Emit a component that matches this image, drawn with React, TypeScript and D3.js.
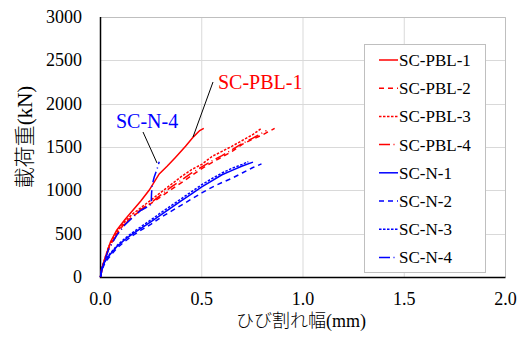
import React, { useEffect, useRef } from 'react'
import * as d3 from 'd3'

// crack width (mm) vs load (kN)
const pbl1 = [[0,0],[0.005,90],[0.02,200],[0.05,410],[0.08,540],[0.12,660],[0.16,770],[0.2,880],[0.24,1000],[0.29,1190],[0.33,1280],[0.37,1380],[0.42,1510],[0.46,1620],[0.49,1690],[0.51,1715]]
const pbl2 = [[0,0],[0.01,120],[0.04,330],[0.08,500],[0.12,620],[0.16,700],[0.2,770],[0.25,850],[0.3,930],[0.35,1010],[0.4,1090],[0.45,1170],[0.5,1250],[0.55,1320],[0.6,1385],[0.65,1450],[0.7,1530],[0.75,1590],[0.8,1640],[0.86,1715]]
const pbl3 = [[0,0],[0.01,130],[0.04,350],[0.08,520],[0.12,640],[0.16,730],[0.2,800],[0.25,890],[0.3,980],[0.35,1070],[0.4,1160],[0.45,1240],[0.5,1300],[0.55,1390],[0.6,1450],[0.65,1510],[0.7,1575],[0.75,1640],[0.795,1715]]
const pbl4 = [[0,0],[0.01,110],[0.04,320],[0.08,490],[0.12,610],[0.16,700],[0.2,780],[0.25,860],[0.3,950],[0.35,1040],[0.4,1120],[0.45,1200],[0.5,1270],[0.55,1340],[0.6,1400],[0.65,1470],[0.7,1540],[0.75,1600],[0.82,1690]]
const n1 = [[0,0],[0.005,80],[0.02,170],[0.04,240],[0.08,350],[0.12,430],[0.16,500],[0.2,560],[0.25,640],[0.3,720],[0.35,800],[0.4,880],[0.45,960],[0.5,1040],[0.55,1110],[0.6,1180],[0.65,1230],[0.7,1280],[0.753,1325]]
const n2 = [[0,0],[0.005,70],[0.02,150],[0.04,220],[0.08,330],[0.12,410],[0.16,480],[0.2,540],[0.25,610],[0.3,690],[0.35,760],[0.4,830],[0.45,900],[0.5,970],[0.55,1035],[0.6,1090],[0.65,1140],[0.7,1200],[0.75,1260],[0.795,1305]]
const n3 = [[0,0],[0.005,90],[0.02,180],[0.04,250],[0.08,360],[0.12,445],[0.16,515],[0.2,580],[0.25,660],[0.3,745],[0.35,825],[0.4,905],[0.45,985],[0.5,1065],[0.55,1135],[0.6,1200],[0.65,1255],[0.7,1300],[0.73,1330]]
const n4 = [[0,0],[0.01,120],[0.04,320],[0.08,480],[0.12,600],[0.16,690],[0.2,770],[0.24,820],[0.25,840],[0.252,960],[0.255,1060],[0.265,1150],[0.28,1250],[0.29,1330]]

const names = ['SC-PBL-1','SC-PBL-2','SC-PBL-3','SC-PBL-4','SC-N-1','SC-N-2','SC-N-3','SC-N-4']
const seriesData = [pbl1, pbl2, pbl3, pbl4, n1, n2, n3, n4]
const colors = ['#ff0000','#ff0000','#ff0000','#ff0000','#0000ff','#0000ff','#0000ff','#0000ff']
const dashes = ['none','5,4','2.5,1.5','11,3.5,1,3.5','none','5,4','2.5,1.5','11,3.5,1,3.5']

const xTicks = [0, 0.5, 1.0, 1.5, 2.0]
const yTicks = [0, 500, 1000, 1500, 2000, 2500, 3000]

const serif = "'Liberation Serif', 'Times New Roman', Tinos, 'DejaVu Serif', 'Noto Serif', serif"
const cjk = "'Liberation Serif', 'Times New Roman', Tinos, 'Noto Sans CJK JP', serif"

export default function App() {
  const ref = useRef(null)

  useEffect(() => {
    var svg = d3.select(ref.current)
    svg.selectAll('*').remove()

    var left = 100.5, right = 505.5, top = 17, bottom = 277
    var x = d3.scaleLinear().domain([0, 2]).range([left, right])
    var y = d3.scaleLinear().domain([0, 3000]).range([bottom, top])

    svg.append('rect').attr('width', 520).attr('height', 338).attr('fill', '#fff')

    // grid
    svg.append('g').selectAll('line').data(xTicks.slice(1)).enter().append('line')
      .attr('x1', d => x(d)).attr('x2', d => x(d))
      .attr('y1', top).attr('y2', bottom)
      .attr('stroke', '#d9d9d9').attr('stroke-width', 1)
    svg.append('g').selectAll('line').data(yTicks.slice(1)).enter().append('line')
      .attr('x1', left).attr('x2', right)
      .attr('y1', d => Math.round(y(d)) + 0.5).attr('y2', d => Math.round(y(d)) + 0.5)
      .attr('stroke', '#d9d9d9').attr('stroke-width', 1)

    // frame
    svg.append('path')
      .attr('d', `M${left},${top + 0.5}H${right}V${bottom}`)
      .attr('fill', 'none').attr('stroke', '#bfbfbf').attr('stroke-width', 1)
    svg.append('path')
      .attr('d', `M${left},${top}V${bottom + 0.5}H${right}`)
      .attr('fill', 'none').attr('stroke', '#000').attr('stroke-width', 1.5)

    // tick labels
    svg.append('g').selectAll('text').data(yTicks).enter().append('text')
      .attr('x', 82).attr('y', d => y(d) + 6)
      .attr('text-anchor', 'end')
      .style('font-family', serif).style('font-size', '18px')
      .text(d => d)
    svg.append('g').selectAll('text').data(xTicks).enter().append('text')
      .attr('x', d => x(d)).attr('y', 305)
      .attr('text-anchor', 'middle')
      .style('font-family', serif).style('font-size', '18px')
      .text(d => d.toFixed(1))

    // axis titles
    svg.append('text')
      .attr('x', 301).attr('y', 327).attr('text-anchor', 'middle')
      .style('font-family', cjk).style('font-size', '18px').style('font-weight', 300)
      .text('ひび割れ幅(mm)')
    svg.append('text')
      .attr('transform', 'translate(32,137) rotate(-90)').attr('text-anchor', 'middle')
      .style('font-family', cjk).style('font-size', '21px').style('font-weight', 300)
      .text('載荷重(kN)')

    // curves
    var line = d3.line().x(d => x(d[0])).y(d => y(d[1]))
    svg.append('g').selectAll('path').data(seriesData).enter().append('path')
      .attr('d', d => line(d))
      .attr('fill', 'none')
      .attr('stroke', (d, i) => colors[i])
      .attr('stroke-dasharray', (d, i) => dashes[i])
      .attr('stroke-width', 1.5)

    // annotations
    svg.append('line').attr('x1', 213).attr('y1', 82).attr('x2', 193).attr('y2', 137)
      .attr('stroke', '#000').attr('stroke-width', 1)
    svg.append('text').attr('x', 218).attr('y', 89)
      .attr('fill', '#ff0000')
      .style('font-family', serif).style('font-size', '20px')
      .text('SC-PBL-1')
    svg.append('line').attr('x1', 143).attr('y1', 132).attr('x2', 157).attr('y2', 163)
      .attr('stroke', '#000').attr('stroke-width', 1)
    svg.append('text').attr('x', 116).attr('y', 128)
      .attr('fill', '#0000ff')
      .style('font-family', serif).style('font-size', '20px')
      .text('SC-N-4')

    // legend
    var lg = svg.append('g')
    lg.append('rect')
      .attr('x', 364.5).attr('y', 44.5).attr('width', 121).attr('height', 228)
      .attr('fill', '#fff').attr('stroke', '#bfbfbf').attr('stroke-width', 1)
    var items = lg.selectAll('g').data(names).enter().append('g')
      .attr('transform', (d, i) => `translate(0,${60 + i * 28.2})`)
    items.append('line')
      .attr('x1', 379).attr('x2', 398).attr('y1', 0).attr('y2', 0)
      .attr('stroke', (d, i) => colors[i])
      .attr('stroke-dasharray', (d, i) => dashes[i])
      .attr('stroke-width', 1.5)
    items.append('text')
      .attr('x', 399).attr('y', 6)
      .style('font-family', serif).style('font-size', '17px')
      .text(d => d)
  }, [])

  return (
    <svg ref={ref} width={520} height={338}
      style={{ position: 'absolute', left: 0, top: 0 }}></svg>
  )
}
